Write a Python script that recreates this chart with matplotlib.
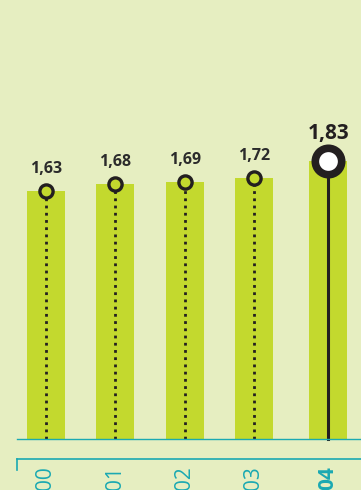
import matplotlib.pyplot as plt
from matplotlib.lines import Line2D
import numpy as np

years = ["00", "01", "02", "03", "04"]
values = [1.63, 1.68, 1.69, 1.72, 1.83]
labels = ["1,63", "1,68", "1,69", "1,72", "1,83"]

bg = "#e6eec1"
green = "#c3d92e"
ink = "#231f20"
teal = "#1aa9b2"

plt.rcParams["font.family"] = ["Open Sans", "DejaVu Sans"]

fig = plt.figure(figsize=(3.61, 4.90), dpi=100, facecolor=bg)
ax = fig.add_axes([0, 0, 1, 1])
ax.set_facecolor(bg)
ax.axis("off")

# last year sits a little further right than the regular spacing
x = np.arange(len(values), dtype=float)
x[-1] += 0.07

px_x = 69.33   # pixels per category step
px_y = 152.0   # pixels per unit
ax.set_xlim(-46 / px_x, (361 - 46) / px_x)
ax.set_ylim(-51 / px_y, 439 / px_y)

ax.bar(x, values, width=38 / px_x, color=green, zorder=1)

for i, (xi, v, lab) in enumerate(zip(x, values, labels)):
    last = i == len(values) - 1
    if last:
        ax.plot([xi, xi], [0, v], color=ink, lw=2.2, zorder=2)
        ax.plot(xi, v, "o", ms=19, mfc="white", mec=ink, mew=5.5, zorder=3)
        ax.text(xi, v + 0.18, lab, ha="center", va="center", fontsize=15,
                fontweight="bold", color=ink)
    else:
        ax.plot([xi, xi], [0, v], color=ink, lw=2, ls=(0, (1, 1.6)), zorder=2)
        ax.plot(xi, v, "o", ms=9.5, mfc=green, mec=ink, mew=2.4, zorder=3)
        ax.text(xi, v + 0.145, lab, ha="center", va="center", fontsize=11.5,
                fontweight="bold", color="#2b2b2b")

# baseline and the lower year rule
ax.axhline(0, xmin=17 / 361, xmax=1, color=teal, lw=1.0)
fig.add_artist(Line2D([17 / 361, 1], [31 / 490, 31 / 490], color=teal, lw=1.2))
fig.add_artist(Line2D([17 / 361, 17 / 361], [20 / 490, 31 / 490], color=teal, lw=1.2))

for i, (xi, yr) in enumerate(zip(x, years)):
    last = i == len(years) - 1
    ax.text(xi, 24 / 490, yr, transform=ax.get_xaxis_transform(), rotation=90,
            ha="center", va="top", fontsize=15, color=teal,
            fontweight="bold" if last else "normal")

fig.savefig("out.png", dpi=100, facecolor=bg)
